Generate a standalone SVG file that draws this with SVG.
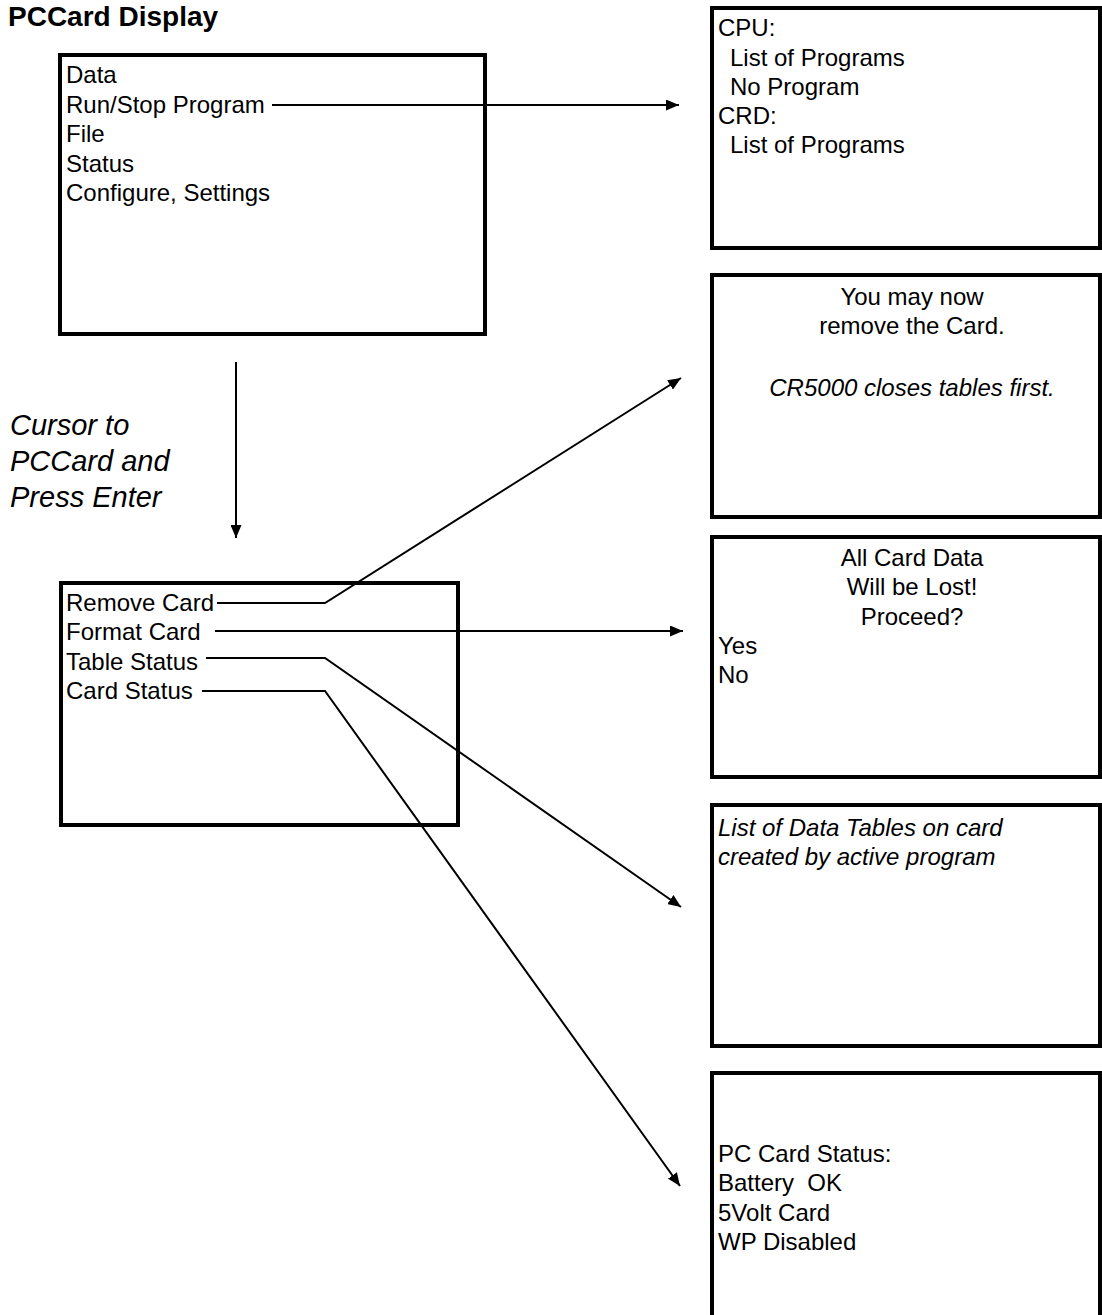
<svg xmlns="http://www.w3.org/2000/svg" width="1102" height="1315" viewBox="0 0 1102 1315">
  <style>
    .screen { fill: #ffffff; stroke: #000000; stroke-width: 4; }
    .t { font-family: "Liberation Sans", Arial, sans-serif; font-size: 24px; fill: #000000; }
    .it { font-style: italic; }
    .mid { text-anchor: middle; }
    .title { font-family: "Liberation Sans", Arial, sans-serif; font-size: 28px; font-weight: bold; fill: #000000; }
    .label { font-family: "Liberation Sans", Arial, sans-serif; font-size: 29px; font-style: italic; fill: #000000; }
    .wire { fill: none; stroke: #000000; stroke-width: 2; }
  </style>
  <defs>
    <marker id="head" markerUnits="userSpaceOnUse" markerWidth="13" markerHeight="11" refX="13" refY="5.5" orient="auto">
      <path d="M0,0 L13,5.5 L0,11 Z" fill="#000000"/>
    </marker>
  </defs>

  <rect width="1102" height="1315" fill="#ffffff"/>

  <text class="title" x="8" y="26">PCCard Display</text>

  <!-- main menu -->
  <g id="main-menu">
    <rect class="screen" x="60" y="55" width="425" height="279"/>
    <text class="t" x="66" y="83">Data</text>
    <text class="t" x="66" y="113">Run/Stop Program</text>
    <text class="t" x="66" y="142">File</text>
    <text class="t" x="66" y="172">Status</text>
    <text class="t" x="66" y="201">Configure, Settings</text>
  </g>

  <!-- PC card menu -->
  <g id="pccard-menu">
    <rect class="screen" x="61" y="583" width="397" height="242"/>
    <text class="t" x="66" y="611">Remove Card</text>
    <text class="t" x="66" y="640">Format Card</text>
    <text class="t" x="66" y="670">Table Status</text>
    <text class="t" x="66" y="699">Card Status</text>
  </g>

  <!-- instruction between the menus -->
  <g id="instruction">
    <text class="label" x="10" y="435">Cursor to</text>
    <text class="label" x="10" y="471">PCCard and</text>
    <text class="label" x="10" y="507">Press Enter</text>
  </g>

  <!-- program list screen -->
  <g id="program-list">
    <rect class="screen" x="712" y="8" width="388" height="240"/>
    <text class="t" x="718" y="36">CPU:</text>
    <text class="t" x="730" y="66">List of Programs</text>
    <text class="t" x="730" y="95">No Program</text>
    <text class="t" x="718" y="124">CRD:</text>
    <text class="t" x="730" y="153">List of Programs</text>
  </g>

  <!-- remove card screen -->
  <g id="remove-card">
    <rect class="screen" x="712" y="275" width="388" height="242"/>
    <text class="t mid" x="912" y="305">You may now</text>
    <text class="t mid" x="912" y="334">remove the Card.</text>
    <text class="t mid it" x="912" y="396">CR5000 closes tables first.</text>
  </g>

  <!-- format card screen -->
  <g id="format-card">
    <rect class="screen" x="712" y="537" width="388" height="240"/>
    <text class="t mid" x="912" y="566">All Card Data</text>
    <text class="t mid" x="912" y="595">Will be Lost!</text>
    <text class="t mid" x="912" y="625">Proceed?</text>
    <text class="t" x="718" y="654">Yes</text>
    <text class="t" x="718" y="683">No</text>
  </g>

  <!-- table status screen -->
  <g id="table-status">
    <rect class="screen" x="712" y="805" width="388" height="241"/>
    <text class="t it" x="718" y="836">List of Data Tables on card</text>
    <text class="t it" x="718" y="865">created by active program</text>
  </g>

  <!-- card status screen -->
  <g id="card-status">
    <rect class="screen" x="712" y="1073" width="388" height="260"/>
    <text class="t" x="718" y="1162">PC Card Status:</text>
    <text class="t" x="718" y="1191" xml:space="preserve">Battery  OK</text>
    <text class="t" x="718" y="1221">5Volt Card</text>
    <text class="t" x="718" y="1250">WP Disabled</text>
  </g>

  <!-- connectors -->
  <g id="connectors">
    <line class="wire" x1="272" y1="105" x2="679" y2="105" marker-end="url(#head)"/>
    <line class="wire" x1="236" y1="362" x2="236" y2="538" marker-end="url(#head)"/>
    <polyline class="wire" points="217,603 325,603 681,378" marker-end="url(#head)"/>
    <line class="wire" x1="215" y1="631" x2="683" y2="631" marker-end="url(#head)"/>
    <polyline class="wire" points="206,658 325,658 681,907" marker-end="url(#head)"/>
    <polyline class="wire" points="202,691 325,691 680,1186" marker-end="url(#head)"/>
  </g>
</svg>
